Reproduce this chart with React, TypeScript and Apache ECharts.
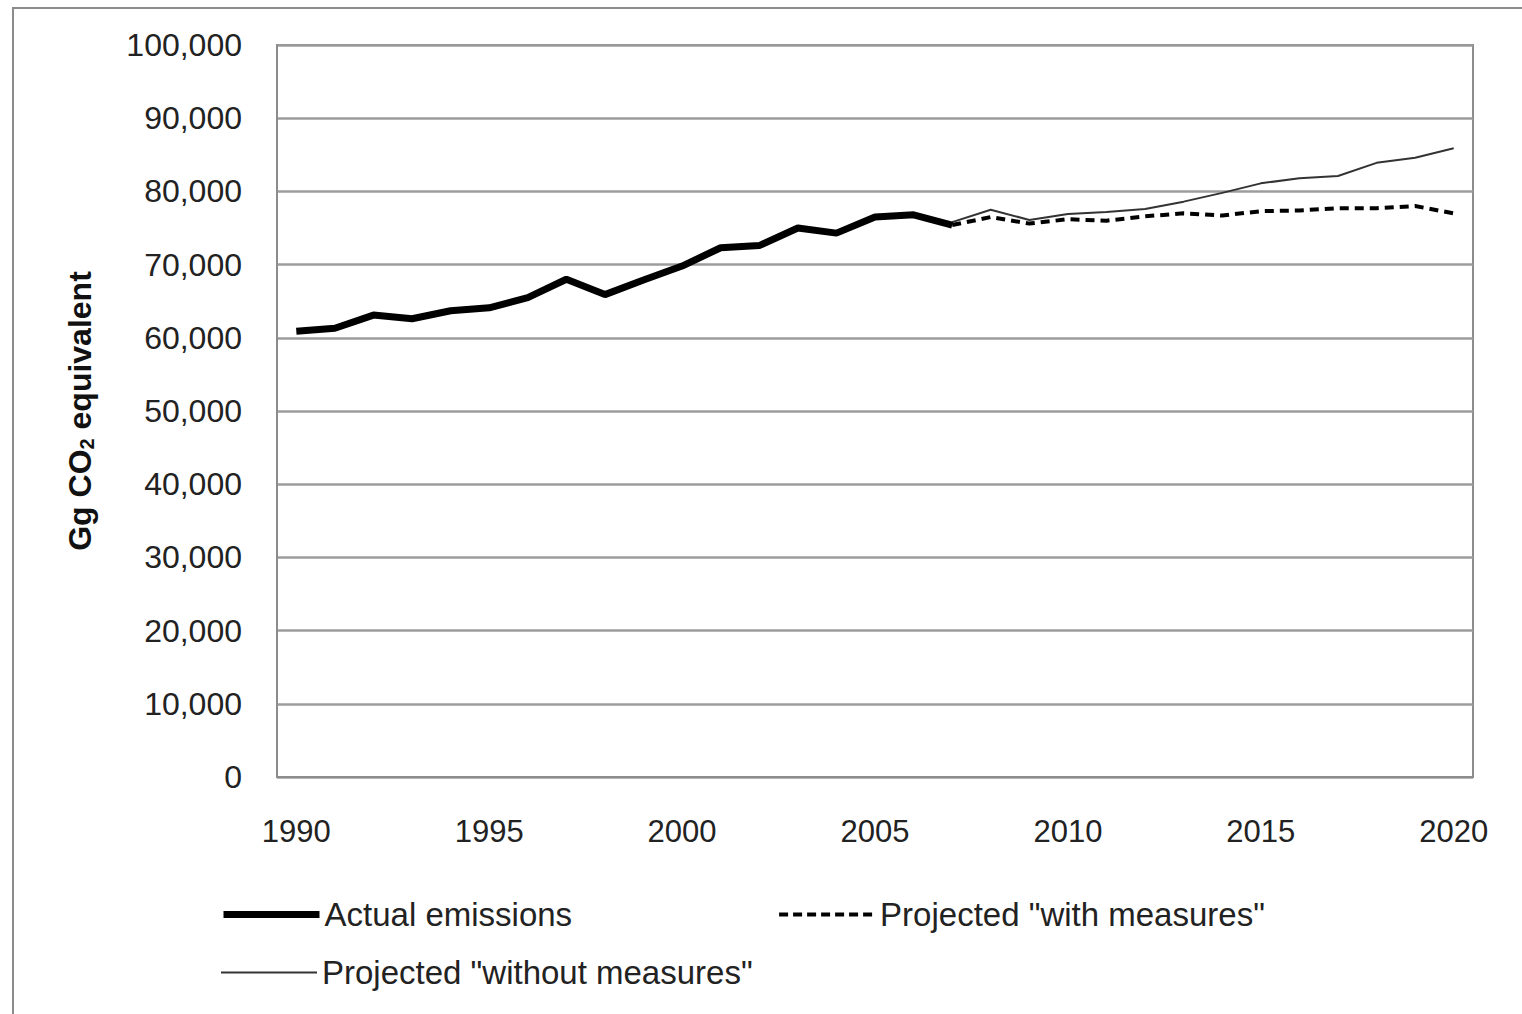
import React, { useEffect, useRef } from "react";
import * as echarts from "echarts";

const years = [
  "1990","1991","1992","1993","1994","1995","1996","1997","1998","1999",
  "2000","2001","2002","2003","2004","2005","2006","2007","2008","2009",
  "2010","2011","2012","2013","2014","2015","2016","2017","2018","2019","2020",
];

const actualEmissions: (number | null)[] = [
  60900, 61300, 63100, 62600, 63700, 64100, 65500, 68000, 65900, 67900,
  69800, 72300, 72600, 75000, 74300, 76500, 76800, 75400,
  null, null, null, null, null, null, null, null, null, null, null, null, null,
];

const withMeasures: (number | null)[] = [
  null, null, null, null, null, null, null, null, null, null,
  null, null, null, null, null, null, null, 75400, 76500, 75600,
  76200, 76000, 76600, 77000, 76700, 77300, 77400, 77700, 77700, 78000, 77000,
];

const withoutMeasures: (number | null)[] = [
  null, null, null, null, null, null, null, null, null, null,
  null, null, null, null, null, null, null, 75800, 77500, 76100,
  76900, 77200, 77600, 78600, 79800, 81100, 81800, 82100, 83900, 84600, 85900,
];

const seriesNames = [
  "Actual emissions",
  'Projected "with measures"',
  'Projected "without measures"',
];

export default function App() {
  const ref = useRef<HTMLDivElement>(null);
  useEffect(() => {
    if (!ref.current) return;
    const chart = echarts.init(ref.current, null, { renderer: "svg" });
    const font = "Liberation Sans, Arial, sans-serif";
    const legendText = { fontSize: 33, color: "#222", fontFamily: font };
    chart.setOption({
      animation: false,
      backgroundColor: "#ffffff",
      textStyle: { fontFamily: font },
      graphic: [
        {
          type: "polyline",
          shape: { points: [[13, 1014], [13, 8], [1522, 8]] },
          style: { stroke: "#8c8c8c", lineWidth: 2, fill: null },
          silent: true,
        },
      ],
      grid: {
        left: 277,
        top: 45,
        right: 49,
        bottom: 237,
        show: true,
        borderColor: "#8c8c8c",
        borderWidth: 2,
        backgroundColor: "transparent",
      },
      legend: [
        {
          data: [
            {
              name: seriesNames[0],
              itemStyle: { opacity: 0 },
              lineStyle: { width: 7, color: "#000" },
            },
            {
              name: seriesNames[1],
              itemStyle: { opacity: 0 },
              lineStyle: { width: 4, color: "#000", type: [9, 5] },
            },
          ],
          left: 220,
          top: 898,
          padding: 0,
          itemWidth: 96,
          itemHeight: 14,
          itemGap: 205,
          textStyle: legendText,
        },
        {
          data: [
            {
              name: seriesNames[2],
              itemStyle: { opacity: 0 },
              lineStyle: { width: 2, color: "#333" },
            },
          ],
          left: 220,
          top: 956,
          padding: 0,
          itemWidth: 96,
          itemHeight: 14,
          textStyle: legendText,
        },
      ],
      xAxis: {
        type: "category",
        data: years,
        boundaryGap: true,
        axisLine: { lineStyle: { color: "#8c8c8c", width: 2 } },
        axisTick: { show: false },
        axisLabel: {
          interval: 4,
          fontSize: 31,
          color: "#222",
          margin: 39,
          fontFamily: font,
        },
      },
      yAxis: {
        type: "value",
        min: 0,
        max: 100000,
        interval: 10000,
        name: "Gg CO{sub|2} equivalent",
        nameLocation: "middle",
        nameGap: 180,
        nameRotate: 90,
        nameTextStyle: {
          fontSize: 32,
          fontWeight: "bold",
          color: "#111",
          fontFamily: font,
          rich: {
            sub: {
              fontSize: 20,
              fontWeight: "bold",
              color: "#111",
              fontFamily: font,
              padding: [14, 0, 0, 0],
            },
          },
        },
        axisLine: { show: true, lineStyle: { color: "#8c8c8c", width: 2 } },
        axisTick: { show: false },
        splitLine: { lineStyle: { color: "#9c9c9c", width: 2.5 } },
        axisLabel: {
          fontSize: 32,
          color: "#222",
          margin: 35,
          fontFamily: font,
          formatter: (v: number) => v.toLocaleString("en-US"),
        },
      },
      series: [
        {
          name: seriesNames[0],
          type: "line",
          data: actualEmissions,
          symbol: "none",
          lineStyle: { color: "#000", width: 7 },
          itemStyle: { color: "#000" },
          z: 3,
        },
        {
          name: seriesNames[1],
          type: "line",
          data: withMeasures,
          symbol: "none",
          lineStyle: { color: "#000", width: 4, type: [9, 6] },
          itemStyle: { color: "#000" },
          z: 2,
        },
        {
          name: seriesNames[2],
          type: "line",
          data: withoutMeasures,
          symbol: "none",
          lineStyle: { color: "#333", width: 2 },
          itemStyle: { color: "#333" },
          z: 1,
        },
      ],
    });
    return () => chart.dispose();
  }, []);
  return (
    <div
      ref={ref}
      style={{ position: "fixed", left: 0, top: 0, width: 1522, height: 1014 }}
    />
  );
}
